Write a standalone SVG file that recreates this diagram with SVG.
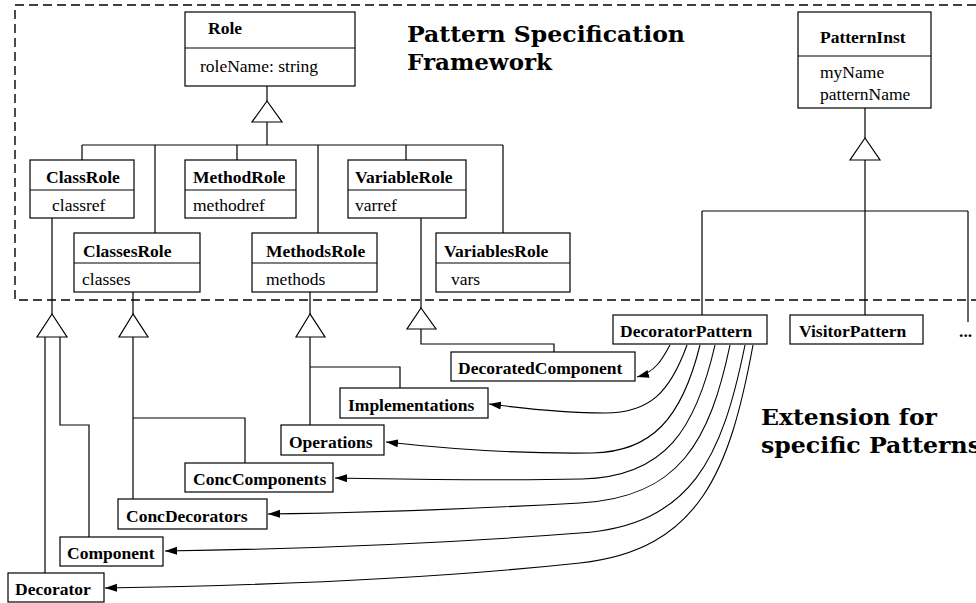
<svg xmlns="http://www.w3.org/2000/svg" width="976" height="603" viewBox="0 0 976 603">
<defs>
<style>
.box{fill:#fff;stroke:#000;stroke-width:1.2}
.ln{fill:none;stroke:#000;stroke-width:1.2}
.cv{fill:none;stroke:#000;stroke-width:1.1;marker-end:url(#ah)}
.tri{fill:#fff;stroke:#000;stroke-width:1.2}
.frame{fill:none;stroke:#000;stroke-width:1.4;stroke-dasharray:9 5}
.n{font-family:"Liberation Serif","Times New Roman",serif;font-size:17.5px;font-weight:bold;fill:#000}
.a{font-family:"Liberation Serif","Times New Roman",serif;font-size:17.5px;fill:#000}
.ttl{font-family:"DejaVu Serif",serif;font-size:22px;font-weight:bold;fill:#000}
</style>
<marker id="ah" markerUnits="userSpaceOnUse" markerWidth="13" markerHeight="9" refX="12" refY="4" orient="auto">
<path d="M0,0 L12,4 L0,8 z" fill="#000"/>
</marker>
</defs>
<rect width="976" height="603" fill="#fff"/>
<path class="frame" d="M976 5 H15 V300 H976"/>
<text class="ttl" x="407" y="42" textLength="278" lengthAdjust="spacingAndGlyphs">Pattern Specification</text>
<text class="ttl" x="407" y="70" textLength="145" lengthAdjust="spacingAndGlyphs">Framework</text>
<text class="ttl" x="761" y="425" textLength="176" lengthAdjust="spacingAndGlyphs">Extension for</text>
<text class="ttl" x="761" y="453" textLength="220" lengthAdjust="spacingAndGlyphs">specific Patterns</text>
<g id="connectors">
<path class="ln" d="M267 86 V101 M267 122 V145 M82 145 H503 M82 145 V160 M155 145 V233 M237 145 V160 M318 145 V233 M406 145 V160 M503 145 V233"/>
<polygon class="tri" points="267,101 252,122 282,122"/>
<path class="ln" d="M52 218 V314 M45 337 V573 M60 337 V425 H89 V537"/>
<polygon class="tri" points="52,314 37,337 67,337"/>
<path class="ln" d="M133 292 V314 M133 337 V499 M133 418 H245 V463"/>
<polygon class="tri" points="133,314 119,337 148,337"/>
<path class="ln" d="M310 292 V314 M310 337 V425 M310 367 H400 V388"/>
<polygon class="tri" points="310,314 296,337 325,337"/>
<path class="ln" d="M421 218 V308 M421 329 V344 H554 V352"/>
<polygon class="tri" points="421,308 407,329 436,329"/>
<path class="ln" d="M865 108 V138 M865 160 V211 M702 211 H968 M702 211 V315 M865 211 V315 M968 211 V322"/>
<polygon class="tri" points="865,138 850,160 880,160"/>
<path class="cv" d="M670 345 C662 360 655 372 637 377"/>
<path class="cv" d="M687 345 C670 392 650 413 605 413 C560 413 520 408 489 404"/>
<path class="cv" d="M700 345 C682 418 652 452 592 453 C520 454 440 448 386 442"/>
<path class="cv" d="M715 345 C696 428 666 477 582 479 C480 481 400 479 335 478"/>
<path class="cv" d="M730 345 C710 440 680 498 580 503 C450 510 350 513 268 514"/>
<path class="cv" d="M745 345 C722 458 692 525 580 533 C450 543 300 549 165 551"/>
<path class="cv" d="M753 345 C730 470 700 550 580 563 C450 577 300 585 105 588"/>
</g>
<g id="Role">
<rect class="box" x="185" y="12" width="170" height="74"/>
<line class="ln" x1="185" y1="48" x2="355" y2="48"/>
<text class="n" x="208" y="34">Role</text>
<text class="a" x="200" y="72">roleName: string</text>
</g>
<g id="ClassRole">
<rect class="box" x="30" y="160" width="104" height="58"/>
<line class="ln" x1="30" y1="190" x2="134" y2="190"/>
<text class="n" x="46" y="183">ClassRole</text>
<text class="a" x="52" y="211">classref</text>
</g>
<g id="MethodRole">
<rect class="box" x="185" y="160" width="111" height="58"/>
<line class="ln" x1="185" y1="190" x2="296" y2="190"/>
<text class="n" x="193" y="183">MethodRole</text>
<text class="a" x="193" y="211">methodref</text>
</g>
<g id="VariableRole">
<rect class="box" x="348" y="160" width="118" height="58"/>
<line class="ln" x1="348" y1="190" x2="466" y2="190"/>
<text class="n" x="355" y="183">VariableRole</text>
<text class="a" x="355" y="211">varref</text>
</g>
<g id="ClassesRole">
<rect class="box" x="74" y="233" width="126" height="59"/>
<line class="ln" x1="74" y1="263" x2="200" y2="263"/>
<text class="n" x="83" y="257">ClassesRole</text>
<text class="a" x="82" y="285">classes</text>
</g>
<g id="MethodsRole">
<rect class="box" x="252" y="233" width="125" height="59"/>
<line class="ln" x1="252" y1="263" x2="377" y2="263"/>
<text class="n" x="266" y="257">MethodsRole</text>
<text class="a" x="266" y="285">methods</text>
</g>
<g id="VariablesRole">
<rect class="box" x="436" y="233" width="134" height="59"/>
<line class="ln" x1="436" y1="263" x2="570" y2="263"/>
<text class="n" x="444" y="257">VariablesRole</text>
<text class="a" x="451" y="285">vars</text>
</g>
<g id="PatternInst">
<rect class="box" x="798" y="12" width="133" height="96"/>
<line class="ln" x1="798" y1="56" x2="931" y2="56"/>
<text class="n" x="820" y="43">PatternInst</text>
<text class="a" x="820" y="78">myName</text>
<text class="a" x="820" y="100">patternName</text>
</g>
<g id="DecoratorPattern">
<rect class="box" x="613" y="315" width="154" height="29"/>
<text class="n" x="620" y="337">DecoratorPattern</text>
</g>
<g id="VisitorPattern">
<rect class="box" x="790" y="315" width="133" height="29"/>
<text class="n" x="799" y="337">VisitorPattern</text>
</g>
<g id="More">
<text class="n" x="959" y="337">...</text>
</g>
<g id="DecoratedComponent">
<rect class="box" x="451" y="352" width="184" height="29"/>
<text class="n" x="458" y="374">DecoratedComponent</text>
</g>
<g id="Implementations">
<rect class="box" x="340" y="388" width="148" height="30"/>
<text class="n" x="348" y="411">Implementations</text>
</g>
<g id="Operations">
<rect class="box" x="281" y="425" width="103" height="30"/>
<text class="n" x="289" y="448">Operations</text>
</g>
<g id="ConcComponents">
<rect class="box" x="185" y="463" width="148" height="29"/>
<text class="n" x="193" y="485">ConcComponents</text>
</g>
<g id="ConcDecorators">
<rect class="box" x="118" y="499" width="149" height="30"/>
<text class="n" x="126" y="522">ConcDecorators</text>
</g>
<g id="Component">
<rect class="box" x="60" y="537" width="103" height="29"/>
<text class="n" x="67" y="559">Component</text>
</g>
<g id="Decorator">
<rect class="box" x="8" y="573" width="96" height="29"/>
<text class="n" x="15" y="595">Decorator</text>
</g>
</svg>
